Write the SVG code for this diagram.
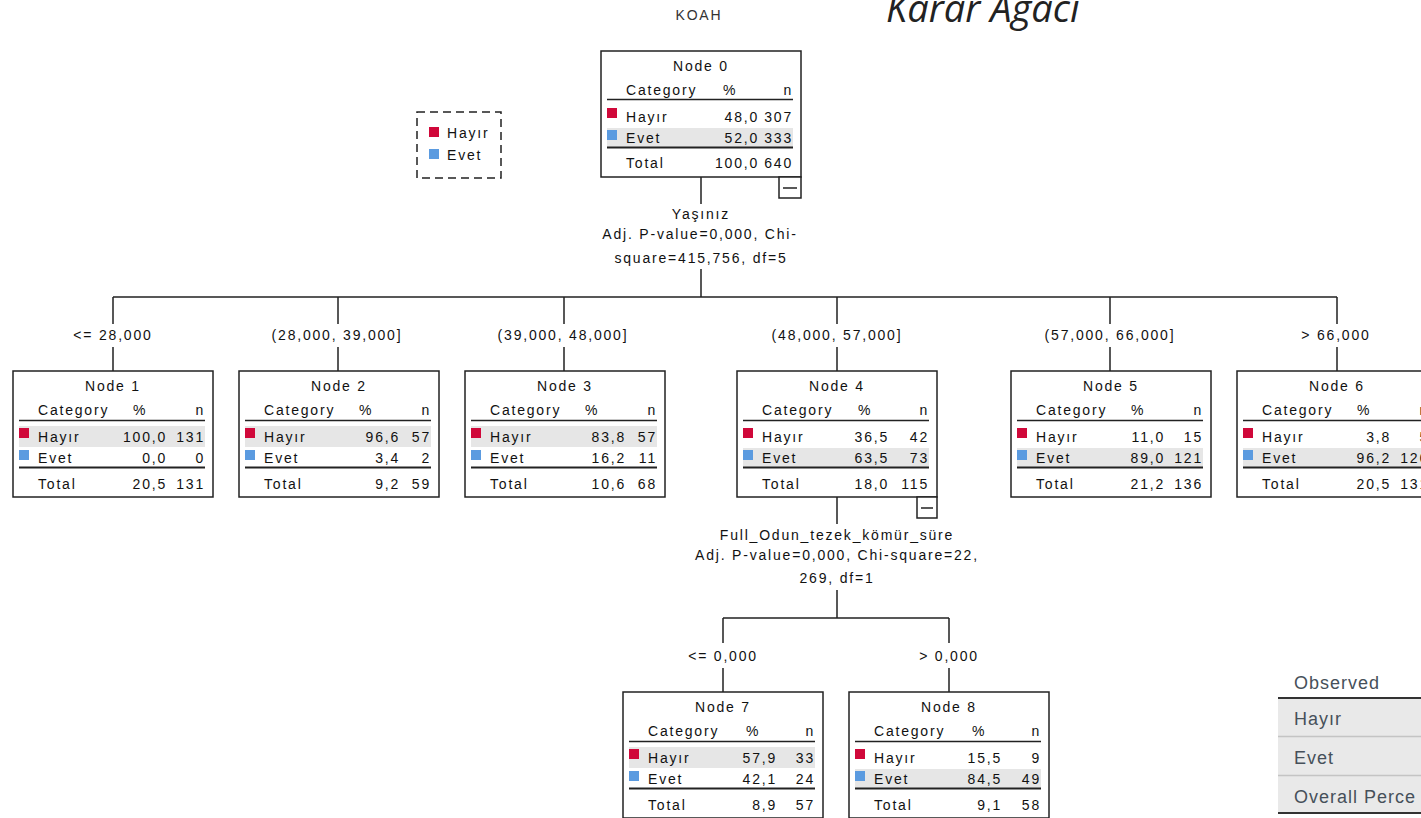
<svg xmlns="http://www.w3.org/2000/svg" width="1421" height="818" viewBox="0 0 1421 818">
<style>
.t{font-family:"Liberation Sans",Arial,sans-serif;font-size:14px;letter-spacing:1.8px;fill:#111}
.m{text-anchor:middle}
.e{text-anchor:end}
.box{fill:#fff;stroke:#222;stroke-width:1.5}
.hl{fill:#e6e6e6}
.rule{stroke:#222;stroke-width:1.5}
.rule2{stroke:#222;stroke-width:2}
.sqH{fill:#d0083a}
.sqE{fill:#5b9be0}
.btn{fill:#fff;stroke:#222;stroke-width:1.5}
.obs{font-family:"Liberation Sans",Arial,sans-serif;font-size:18px;letter-spacing:1px;fill:#46505a}
</style>

<text x="699" y="20" class="t m" style="fill:#333">KOAH</text>
<text x="886" y="22" style="font-family:'Open Sans','Liberation Sans',sans-serif;font-style:italic;font-size:38px;fill:#222">Karar Ağacı</text>

<g id="legend">
<rect x="417" y="112" width="84" height="66" fill="none" stroke="#222" stroke-width="1.5" stroke-dasharray="8,5"/>
<rect class="sqH" x="429" y="127" width="10" height="10"/>
<text x="447" y="138" class="t">Hayır</text>
<rect class="sqE" x="429" y="149" width="10" height="10"/>
<text x="447" y="160" class="t">Evet</text>
</g>

<g id="connectors" fill="none" stroke="#222" stroke-width="1.5">
<path d="M701 177V204 M701 269V297 M113 297H1337
M113 297V324 M113 347V371
M338 297V324 M338 347V371
M564 297V324 M564 347V371
M837 297V324 M837 347V371
M1110 297V324 M1110 347V371
M1337 297V324 M1337 347V371
M837 497V524 M837 590V618 M723 618H949
M723 618V643 M723 668V692
M949 618V643 M949 668V692"/>
</g>

<g id="edge-labels">
<text x="701" y="219" class="t m">Yaşınız</text>
<text x="700" y="239" class="t m">Adj. P-value=0,000, Chi-</text>
<text x="701" y="263" class="t m">square=415,756, df=5</text>
<text x="113" y="340" class="t m">&lt;= 28,000</text>
<text x="337" y="340" class="t m">(28,000, 39,000]</text>
<text x="563" y="340" class="t m">(39,000, 48,000]</text>
<text x="837" y="340" class="t m">(48,000, 57,000]</text>
<text x="1110" y="340" class="t m">(57,000, 66,000]</text>
<text x="1336" y="340" class="t m">&gt; 66,000</text>
<text x="837" y="540" class="t m">Full_Odun_tezek_kömür_süre</text>
<text x="837" y="560" class="t m">Adj. P-value=0,000, Chi-square=22,</text>
<text x="837" y="583" class="t m">269, df=1</text>
<text x="723" y="661" class="t m">&lt;= 0,000</text>
<text x="949" y="661" class="t m">&gt; 0,000</text>
</g>

<g id="node0" transform="translate(601,51)">
<rect class="box" x="0" y="0" width="200" height="126"/>
<rect class="hl" x="6" y="77" width="186" height="19"/>
<text x="100" y="20" class="t m">Node 0</text>
<text x="25" y="44" class="t">Category</text><text x="129" y="44" class="t m">%</text><text x="192" y="44" class="t e">n</text>
<line class="rule" x1="6" y1="48.5" x2="192" y2="48.5"/>
<rect class="sqH" x="6" y="57" width="10" height="10"/>
<text x="25" y="71" class="t">Hayır</text><text x="158" y="71" class="t e">48,0</text><text x="192" y="71" class="t e">307</text>
<rect class="sqE" x="6" y="79" width="10" height="10"/>
<text x="25" y="92" class="t">Evet</text><text x="158" y="92" class="t e">52,0</text><text x="192" y="92" class="t e">333</text>
<line class="rule2" x1="6" y1="96.5" x2="192" y2="96.5"/>
<text x="25" y="117" class="t">Total</text><text x="158" y="117" class="t e">100,0</text><text x="192" y="117" class="t e">640</text>
<rect class="btn" x="178" y="126" width="22" height="21"/>
<line class="rule" x1="182" y1="137" x2="196" y2="137"/>
</g>

<g id="node1" transform="translate(13,371)">
<rect class="box" x="0" y="0" width="200" height="126"/>
<rect class="hl" x="6" y="55" width="186" height="21"/>
<text x="100" y="20" class="t m">Node 1</text>
<text x="25" y="44" class="t">Category</text><text x="127" y="44" class="t m">%</text><text x="192" y="44" class="t e">n</text>
<line class="rule" x1="6" y1="49.5" x2="192" y2="49.5"/>
<rect class="sqH" x="6" y="57" width="10" height="10"/>
<text x="25" y="71" class="t">Hayır</text><text x="154" y="71" class="t e">100,0</text><text x="192" y="71" class="t e">131</text>
<rect class="sqE" x="6" y="79" width="10" height="10"/>
<text x="25" y="92" class="t">Evet</text><text x="154" y="92" class="t e">0,0</text><text x="192" y="92" class="t e">0</text>
<line class="rule2" x1="6" y1="96.5" x2="192" y2="96.5"/>
<text x="25" y="118" class="t">Total</text><text x="154" y="118" class="t e">20,5</text><text x="192" y="118" class="t e">131</text>
</g>

<g id="node2" transform="translate(239,371)">
<rect class="box" x="0" y="0" width="200" height="126"/>
<rect class="hl" x="6" y="55" width="186" height="21"/>
<text x="100" y="20" class="t m">Node 2</text>
<text x="25" y="44" class="t">Category</text><text x="127" y="44" class="t m">%</text><text x="192" y="44" class="t e">n</text>
<line class="rule" x1="6" y1="49.5" x2="192" y2="49.5"/>
<rect class="sqH" x="6" y="57" width="10" height="10"/>
<text x="25" y="71" class="t">Hayır</text><text x="161" y="71" class="t e">96,6</text><text x="192" y="71" class="t e">57</text>
<rect class="sqE" x="6" y="79" width="10" height="10"/>
<text x="25" y="92" class="t">Evet</text><text x="161" y="92" class="t e">3,4</text><text x="192" y="92" class="t e">2</text>
<line class="rule2" x1="6" y1="96.5" x2="192" y2="96.5"/>
<text x="25" y="118" class="t">Total</text><text x="161" y="118" class="t e">9,2</text><text x="192" y="118" class="t e">59</text>
</g>

<g id="node3" transform="translate(465,371)">
<rect class="box" x="0" y="0" width="200" height="126"/>
<rect class="hl" x="6" y="55" width="186" height="21"/>
<text x="100" y="20" class="t m">Node 3</text>
<text x="25" y="44" class="t">Category</text><text x="127" y="44" class="t m">%</text><text x="192" y="44" class="t e">n</text>
<line class="rule" x1="6" y1="49.5" x2="192" y2="49.5"/>
<rect class="sqH" x="6" y="57" width="10" height="10"/>
<text x="25" y="71" class="t">Hayır</text><text x="161" y="71" class="t e">83,8</text><text x="192" y="71" class="t e">57</text>
<rect class="sqE" x="6" y="79" width="10" height="10"/>
<text x="25" y="92" class="t">Evet</text><text x="161" y="92" class="t e">16,2</text><text x="192" y="92" class="t e">11</text>
<line class="rule2" x1="6" y1="96.5" x2="192" y2="96.5"/>
<text x="25" y="118" class="t">Total</text><text x="161" y="118" class="t e">10,6</text><text x="192" y="118" class="t e">68</text>
</g>

<g id="node4" transform="translate(737,371)">
<rect class="box" x="0" y="0" width="200" height="126"/>
<rect class="hl" x="6" y="77" width="186" height="19"/>
<text x="100" y="20" class="t m">Node 4</text>
<text x="25" y="44" class="t">Category</text><text x="128" y="44" class="t m">%</text><text x="192" y="44" class="t e">n</text>
<line class="rule" x1="6" y1="49.5" x2="192" y2="49.5"/>
<rect class="sqH" x="6" y="57" width="10" height="10"/>
<text x="25" y="71" class="t">Hayır</text><text x="152" y="71" class="t e">36,5</text><text x="192" y="71" class="t e">42</text>
<rect class="sqE" x="6" y="79" width="10" height="10"/>
<text x="25" y="92" class="t">Evet</text><text x="152" y="92" class="t e">63,5</text><text x="192" y="92" class="t e">73</text>
<line class="rule2" x1="6" y1="96.5" x2="192" y2="96.5"/>
<text x="25" y="118" class="t">Total</text><text x="152" y="118" class="t e">18,0</text><text x="192" y="118" class="t e">115</text>
<rect class="btn" x="180" y="126" width="20" height="21"/>
<line class="rule" x1="184" y1="137" x2="196" y2="137"/>
</g>

<g id="node5" transform="translate(1011,371)">
<rect class="box" x="0" y="0" width="200" height="126"/>
<rect class="hl" x="6" y="77" width="186" height="19"/>
<text x="100" y="20" class="t m">Node 5</text>
<text x="25" y="44" class="t">Category</text><text x="127" y="44" class="t m">%</text><text x="192" y="44" class="t e">n</text>
<line class="rule" x1="6" y1="49.5" x2="192" y2="49.5"/>
<rect class="sqH" x="6" y="57" width="10" height="10"/>
<text x="25" y="71" class="t">Hayır</text><text x="154" y="71" class="t e">11,0</text><text x="192" y="71" class="t e">15</text>
<rect class="sqE" x="6" y="79" width="10" height="10"/>
<text x="25" y="92" class="t">Evet</text><text x="154" y="92" class="t e">89,0</text><text x="192" y="92" class="t e">121</text>
<line class="rule2" x1="6" y1="96.5" x2="192" y2="96.5"/>
<text x="25" y="118" class="t">Total</text><text x="154" y="118" class="t e">21,2</text><text x="192" y="118" class="t e">136</text>
</g>

<g id="node6" transform="translate(1237,371)">
<rect class="box" x="0" y="0" width="200" height="126"/>
<rect class="hl" x="6" y="77" width="186" height="19"/>
<text x="100" y="20" class="t m">Node 6</text>
<text x="25" y="44" class="t">Category</text><text x="127" y="44" class="t m">%</text><text x="192" y="44" class="t e">n</text>
<line class="rule" x1="6" y1="49.5" x2="192" y2="49.5"/>
<rect class="sqH" x="6" y="57" width="10" height="10"/>
<text x="25" y="71" class="t">Hayır</text><text x="154" y="71" class="t e">3,8</text><text x="192" y="71" class="t e">5</text>
<rect class="sqE" x="6" y="79" width="10" height="10"/>
<text x="25" y="92" class="t">Evet</text><text x="154" y="92" class="t e">96,2</text><text x="192" y="92" class="t e">126</text>
<line class="rule2" x1="6" y1="96.5" x2="192" y2="96.5"/>
<text x="25" y="118" class="t">Total</text><text x="154" y="118" class="t e">20,5</text><text x="192" y="118" class="t e">131</text>
</g>

<g id="node7" transform="translate(623,692)">
<rect class="box" x="0" y="0" width="200" height="126"/>
<rect class="hl" x="6" y="55" width="186" height="21"/>
<text x="100" y="20" class="t m">Node 7</text>
<text x="25" y="44" class="t">Category</text><text x="130" y="44" class="t m">%</text><text x="192" y="44" class="t e">n</text>
<line class="rule" x1="6" y1="49.5" x2="192" y2="49.5"/>
<rect class="sqH" x="6" y="57" width="10" height="10"/>
<text x="25" y="71" class="t">Hayır</text><text x="154" y="71" class="t e">57,9</text><text x="192" y="71" class="t e">33</text>
<rect class="sqE" x="6" y="79" width="10" height="10"/>
<text x="25" y="92" class="t">Evet</text><text x="154" y="92" class="t e">42,1</text><text x="192" y="92" class="t e">24</text>
<line class="rule2" x1="6" y1="96.5" x2="192" y2="96.5"/>
<text x="25" y="118" class="t">Total</text><text x="154" y="118" class="t e">8,9</text><text x="192" y="118" class="t e">57</text>
</g>

<g id="node8" transform="translate(849,692)">
<rect class="box" x="0" y="0" width="200" height="126"/>
<rect class="hl" x="6" y="77" width="186" height="19"/>
<text x="100" y="20" class="t m">Node 8</text>
<text x="25" y="44" class="t">Category</text><text x="130" y="44" class="t m">%</text><text x="192" y="44" class="t e">n</text>
<line class="rule" x1="6" y1="49.5" x2="192" y2="49.5"/>
<rect class="sqH" x="6" y="57" width="10" height="10"/>
<text x="25" y="71" class="t">Hayır</text><text x="153" y="71" class="t e">15,5</text><text x="192" y="71" class="t e">9</text>
<rect class="sqE" x="6" y="79" width="10" height="10"/>
<text x="25" y="92" class="t">Evet</text><text x="153" y="92" class="t e">84,5</text><text x="192" y="92" class="t e">49</text>
<line class="rule2" x1="6" y1="96.5" x2="192" y2="96.5"/>
<text x="25" y="118" class="t">Total</text><text x="153" y="118" class="t e">9,1</text><text x="192" y="118" class="t e">58</text>
</g>

<g id="observed-table">
<rect x="1278" y="698" width="143" height="115" fill="#e9e9e9"/>
<text x="1294" y="689" class="obs">Observed</text>
<line x1="1278" y1="698" x2="1421" y2="698" stroke="#333" stroke-width="2"/>
<line x1="1278" y1="736.5" x2="1421" y2="736.5" stroke="#c4c4c4" stroke-width="1.5"/>
<line x1="1278" y1="775.5" x2="1421" y2="775.5" stroke="#c4c4c4" stroke-width="1.5"/>
<line x1="1278" y1="813" x2="1421" y2="813" stroke="#333" stroke-width="2"/>
<text x="1294" y="725" class="obs">Hayır</text>
<text x="1294" y="764" class="obs">Evet</text>
<text x="1294" y="803" class="obs">Overall Perce</text>
</g>
</svg>
